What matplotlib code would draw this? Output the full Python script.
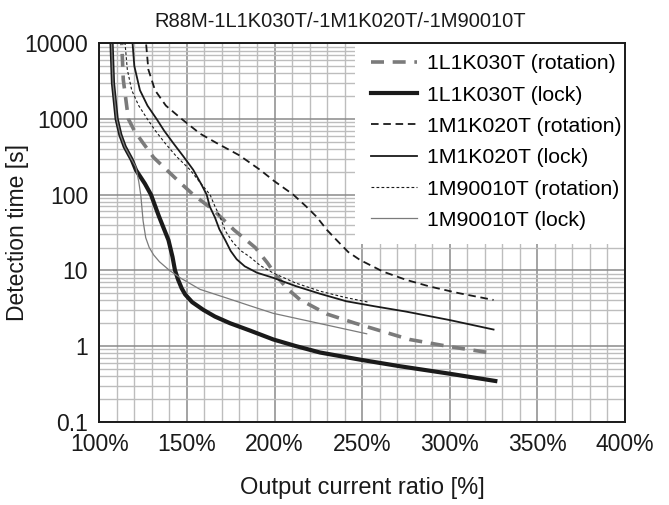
import matplotlib
matplotlib.use("Agg")
import matplotlib.pyplot as plt
from matplotlib.patches import Rectangle
from matplotlib.ticker import FixedLocator, LogLocator, NullFormatter, FixedFormatter

plt.rcParams['font.family'] = ['Liberation Sans', 'DejaVu Sans']

title = "R88M-1L1K030T/-1M1K020T/-1M90010T"
x_ticks = [100, 150, 200, 250, 300, 350, 400]
x_ticklabels = ["100%", "150%", "200%", "250%", "300%", "350%", "400%"]
y_ticks = [0.1, 1, 10, 100, 1000, 10000]
y_ticklabels = ["0.1", "1", "10", "100", "1000", "10000"]

# 1L1K030T (rotation)
l1_rot_x = [112.4, 112.8, 113.7, 116.6, 120.0, 125.0, 131.0, 138.4, 146.0, 153.6, 165.0,
            177.0, 189.0, 196.0, 201.0, 207.0, 214.5, 229.8, 246.0, 262.0, 277.0, 300.0, 325.0]
l1_rot_y = [14000, 10000, 3300, 1000, 700, 480, 310, 213, 145, 100, 63,
            34, 20, 12.5, 8.5, 5.8, 4.1, 2.65, 2.0, 1.55, 1.22, 0.98, 0.8]

# 1L1K030T (lock)
l1_lock_x = [106.8, 107.0, 107.8, 109.9, 112.0, 114.5, 118.5, 121.0, 126.0, 129.5, 134.0,
             139.5, 141.8, 143.2, 145.0, 147.0, 149.0, 153.0, 159.4, 166.0, 174.6, 186.0,
             199.3, 212.0, 226.0, 248.8, 271.6, 300.0, 326.0]
l1_lock_y = [14000, 10000, 3000, 1000, 620, 430, 290, 210, 140, 100, 52,
             25, 15, 10, 7.5, 5.8, 4.8, 3.8, 3.0, 2.45, 2.0, 1.6,
             1.22, 1.0, 0.82, 0.66, 0.54, 0.43, 0.345]

# 1M1K020T (rotation)
m1_rot_x = [126.5, 126.7, 128.0, 131.8, 138.0, 147.0, 157.5, 167.0, 180.0, 191.7, 200.0,
            210.7, 218.0, 224.0, 230.0, 235.5, 242.0, 248.8, 262.0, 275.0, 288.7, 305.0, 325.0]
m1_rot_y = [14000, 10000, 4500, 2400, 1500, 1000, 640, 480, 330, 213, 150,
            100, 70, 51, 34, 25, 17.5, 13.7, 9.6, 7.5, 6.1, 5.0, 4.06]

# 1M1K020T (lock)
m1_lock_x = [118.8, 119.0, 120.0, 123.2, 127.5, 132.7, 137.0, 142.2, 148.0, 153.6, 158.0,
             161.3, 163.0, 166.0, 168.5, 171.9, 175.0, 178.4, 183.0, 190.0, 199.0, 212.0,
             226.0, 241.0, 257.0, 275.0, 300.0, 325.0]
m1_lock_y = [14000, 10000, 5000, 2400, 1500, 1000, 700, 480, 320, 213, 140,
             100, 70, 50, 35, 25, 18, 14, 11.3, 9.3, 8.0, 6.2,
             4.9, 3.9, 3.35, 2.85, 2.2, 1.65]

# 1M90010T (rotation)
m9_rot_x = [114.5, 114.7, 116.0, 118.5, 122.5, 127.4, 132.0, 137.5, 144.0, 151.8, 158.0,
            163.2, 166.0, 168.9, 172.0, 176.5, 181.0, 186.0, 192.0, 199.3, 212.0, 226.0,
            240.0, 253.5]
m9_rot_y = [14000, 10000, 4500, 2400, 1500, 1000, 700, 480, 320, 213, 140,
            100, 70, 51, 33, 23, 18, 15, 11.5, 9.2, 6.8, 5.3,
            4.4, 3.8]

# 1M90010T (lock)
m9_lock_x = [106.8, 107.0, 107.8, 109.9, 112.0, 114.5, 118.5, 120.8, 122.5, 123.7, 125.0,
             126.5, 128.5, 131.0, 134.3, 140.0, 146.0, 157.5, 172.7, 186.0, 199.3, 225.0,
             252.6]
m9_lock_y = [14000, 10000, 3000, 1000, 620, 430, 290, 234, 150, 98, 45,
             27, 20, 16, 13, 10, 8.0, 5.6, 4.3, 3.4, 2.7, 2.0,
             1.45]

labels = ["1L1K030T (rotation)", "1L1K030T (lock)", "1M1K020T (rotation)",
          "1M1K020T (lock)", "1M90010T (rotation)", "1M90010T (lock)"]

fig = plt.figure(figsize=(6.69, 5.05), dpi=100)
ax = fig.add_axes([0.1484, 0.165, 0.7858, 0.7493])
ax.set_yscale('log')
ax.set_xlim(100, 400)
ax.set_ylim(0.1, 10000)

# grid
ax.xaxis.set_minor_locator(FixedLocator(range(100, 401, 10)))
ax.yaxis.set_minor_locator(LogLocator(base=10, subs=range(2, 10), numticks=20))
ax.yaxis.set_minor_formatter(NullFormatter())
ax.grid(which='minor', color='#bdbdbd', lw=1.0)
ax.grid(which='major', color='#8a8a8a', lw=1.1)
ax.set_axisbelow(True)

# white area behind the legend (hides the grid there)
ax.add_patch(Rectangle((0.486, 0.47), 0.514, 0.53, transform=ax.transAxes,
                       facecolor='white', edgecolor='none', zorder=1))

gray = '#7b7b7b'
ax.plot(l1_rot_x, l1_rot_y, color=gray, lw=2.6, dashes=(3.6, 2.4), label=labels[0])
ax.plot(l1_lock_x, l1_lock_y, color='#1a1a1a', lw=3.0, label=labels[1])
ax.plot(m1_rot_x, m1_rot_y, color='#1a1a1a', lw=1.3, dashes=(4.2, 2.6), label=labels[2])
ax.plot(m1_lock_x, m1_lock_y, color='#1a1a1a', lw=1.3, label=labels[3])
ax.plot(m9_rot_x, m9_rot_y, color='#1a1a1a', lw=0.8, dashes=(2.5, 2.0), label=labels[4])
ax.plot(m9_lock_x, m9_lock_y, color=gray, lw=0.9, label=labels[5])

ax.xaxis.set_major_locator(FixedLocator(x_ticks))
ax.xaxis.set_major_formatter(FixedFormatter(x_ticklabels))
ax.yaxis.set_major_locator(FixedLocator(y_ticks))
ax.yaxis.set_major_formatter(FixedFormatter(y_ticklabels))
ax.tick_params(which='both', length=0, labelsize=16.5, colors='#1a1a1a')
ax.tick_params(axis='x', pad=8)
ax.tick_params(axis='y', pad=8)

for s in ax.spines.values():
    s.set_linewidth(1.4)
    s.set_color('#1a1a1a')

ax.set_xlabel("Output current ratio [%]", fontsize=17, color='#1a1a1a', labelpad=15)
ax.set_ylabel("Detection time [s]", fontsize=16.5, color='#1a1a1a')
ax.yaxis.set_label_coords(-0.133, 0.5)

leg = ax.legend(loc='upper right', bbox_to_anchor=(0.9943, 0.971), fontsize=15.3,
                frameon=False, borderaxespad=0.0, borderpad=0.0, handlelength=2.2,
                handletextpad=0.47, labelspacing=0.58)

fig.text(0.508, 0.958, title, ha='center', va='center', fontsize=14.5, color='#1a1a1a')

fig.savefig("out.png", dpi=100)
